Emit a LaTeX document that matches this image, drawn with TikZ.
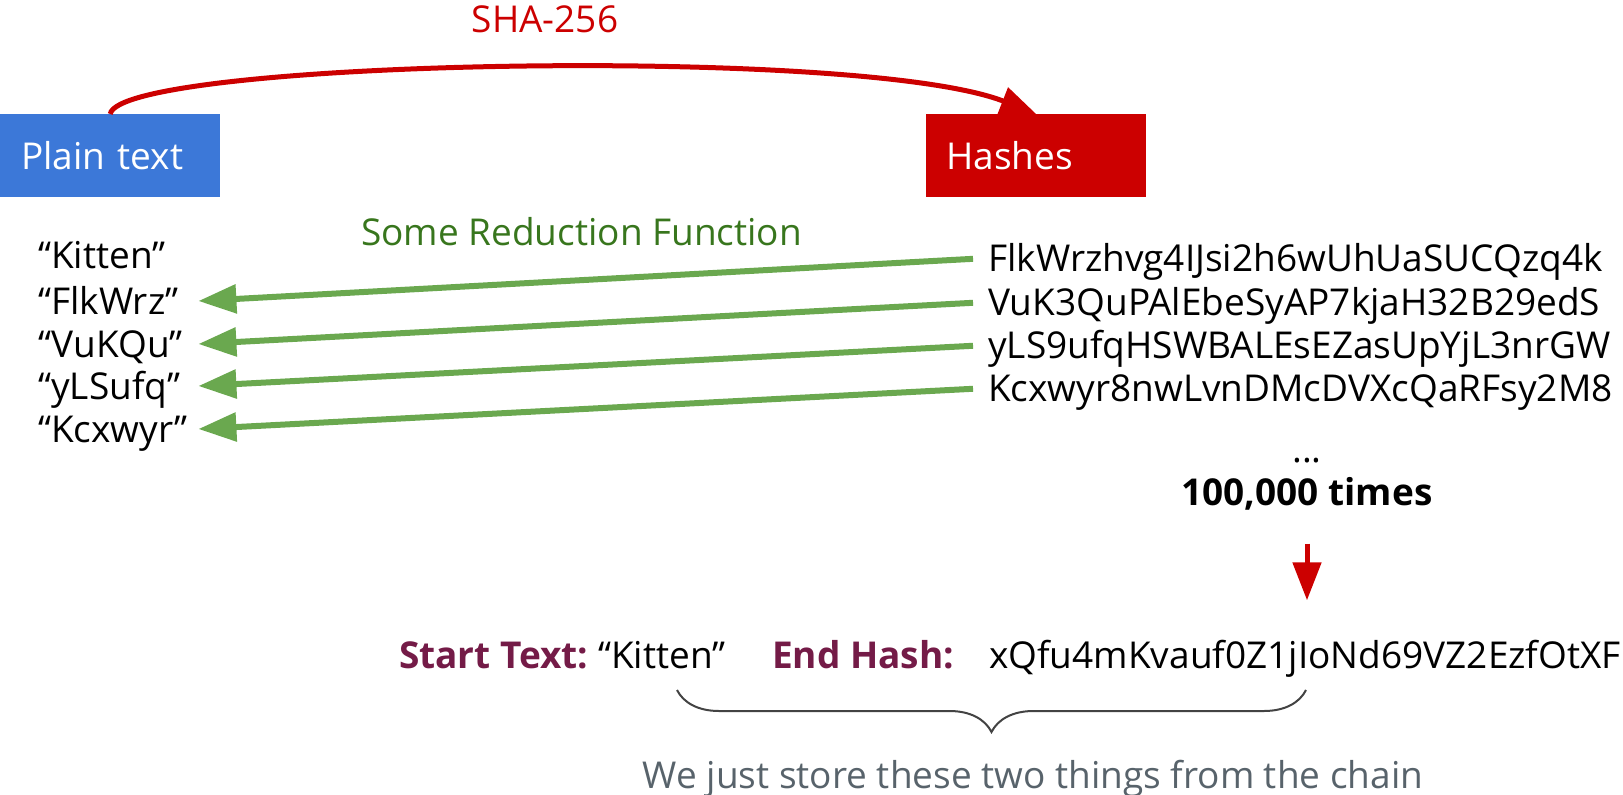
\documentclass[tikz,border=0pt]{standalone}
\usepackage{fontspec}
\setmainfont{Open Sans}
\usetikzlibrary{arrows.meta,decorations.pathreplacing}
\definecolor{gblue}{HTML}{3C78D8}
\definecolor{gred}{HTML}{CC0000}
\definecolor{ggreen}{HTML}{6AA84F}
\definecolor{dgreen}{HTML}{38761D}
\definecolor{maroon}{HTML}{741B47}
\definecolor{gtext}{HTML}{58636B}
\definecolor{bracec}{HTML}{434343}
\begin{document}
\begin{tikzpicture}[x=1pt,y=-1pt,
  txt/.style={font=\fontsize{37}{44}\selectfont, inner sep=0pt, text height=27pt, text depth=0pt},
  wtxt/.style={txt, anchor=west},
  word/.style={wtxt, text width=160pt, align=left},
  box/.style={txt, anchor=north west, minimum height=83pt, text=white, align=left},
  bolds/.style={wtxt, font=\fontsize{37}{44}\selectfont\bfseries, text=maroon},
  redarrow/.style={draw=gred, line width=5pt, -{Triangle[length=36pt,width=28pt]}},
  greenarrow/.style={draw=ggreen, line width=6pt, -{Triangle[length=38pt,width=28pt]}},
  downarrow/.style={draw=gred, line width=5pt, -{Triangle[length=38pt,width=28pt]}}
]
\useasboundingbox (0,0) rectangle (1623,795);
\clip (0,0) rectangle (1623,795);

% boxes
\node[box, fill=gblue, inner xsep=21pt, text width=178pt] (plain) at (0,114) {Plain text};
\node[box, fill=gred, inner xsep=20pt, text width=180pt] (hashes) at (926,114) {Hashes};

% SHA-256 arc
\node[txt, text=gred] (sha) at (545,19) {SHA-256};
\draw[redarrow] (plain.north) .. controls (120,60) and (860,45) .. (hashes.north);

% reduction function label
\node[wtxt, text=dgreen] (red) at (361,232) {Some Reduction Function};

% left words
\node[word] (w0) at (38,255) {“Kitten”};
\node[word] (w1) at (38,301) {“FlkWrz”};
\node[word] (w2) at (38,344) {“VuKQu”};
\node[word] (w3) at (38,386) {“yLSufq”};
\node[word] (w4) at (38,429) {“Kcxwyr”};

% hashes
\node[wtxt] (h1) at (988,258) {FlkWrzhvg4IJsi2h6wUhUaSUCQzq4k};
\node[wtxt] (h2) at (988,302) {VuK3QuPAlEbeSyAP7kjaH32B29edS};
\node[wtxt] (h3) at (988,345) {yLS9ufqHSWBALEsEZasUpYjL3nrGW};
\node[wtxt] (h4) at (988,388) {Kcxwyr8nwLvnDMcDVXcQaRFsy2M8};

\draw[greenarrow, shorten <=15pt] (h1.west) -- (w1.east);
\draw[greenarrow, shorten <=15pt] (h2.west) -- (w2.east);
\draw[greenarrow, shorten <=15pt] (h3.west) -- (w3.east);
\draw[greenarrow, shorten <=15pt] (h4.west) -- (w4.east);

% dots and times
\node[font=\fontsize{37}{44}\selectfont, inner sep=0pt, anchor=base] (dots) at (1307,462) {...};
\node[txt, font=\fontsize{37}{44}\selectfont\bfseries] (times) at (1307,492) {100,000 times};

% bottom row
\node[bolds] (st) at (399,655) {Start Text:};
\node[wtxt] (sk) at (598,655) {“Kitten”};
\node[bolds] (eh) at (772,655) {End Hash:};
\node[wtxt] (ehv) at (989,655) {xQfu4mKvauf0Z1jIoNd69VZ2EzfOtXF};

\draw[downarrow, shorten <=38pt, shorten >=41pt] (times.south) -- (times.south |- ehv.north);

% brace
\coordinate (bl) at (677,690);
\coordinate (br) at (1306,690);
\draw[bracec, line width=2pt, decorate, decoration={brace, amplitude=42pt}] (br) -- (bl);

\node[txt, text=gtext] (store) at (1033,775) {We just store these two things from the chain};
\end{tikzpicture}
\end{document}
